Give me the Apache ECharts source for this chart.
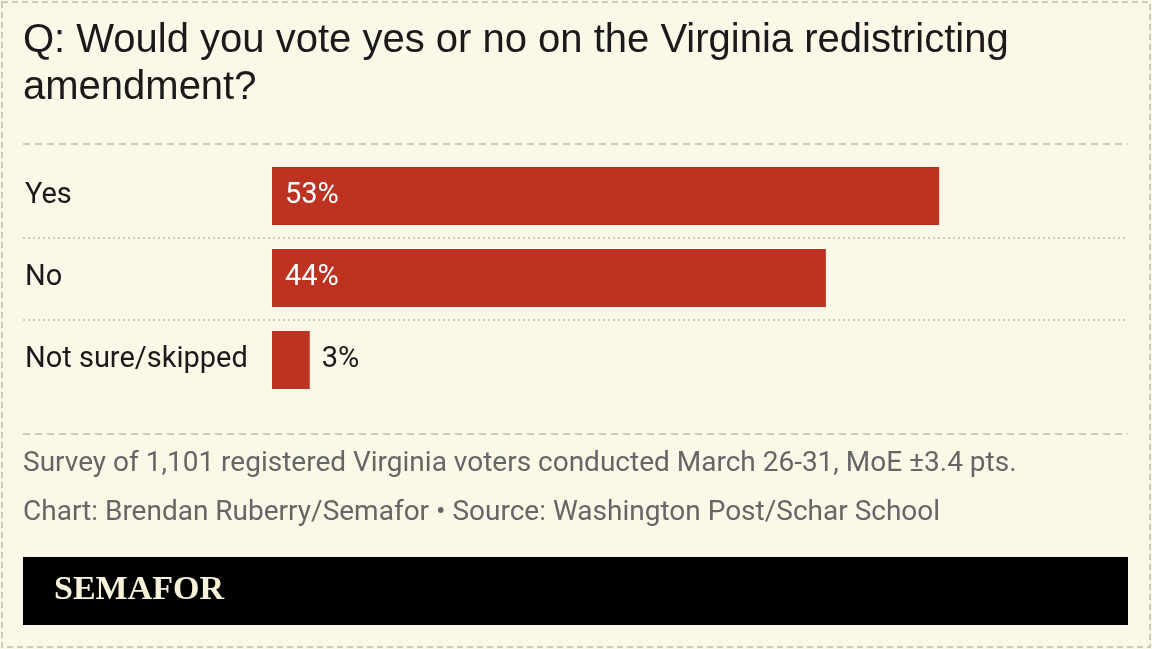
<!DOCTYPE html>
<html>
<head>
<meta charset="utf-8">
<script src="https://cdn.jsdelivr.net/npm/echarts@6/dist/echarts.min.js"></script>
<style>
  html, body { margin: 0; padding: 0; background: #fbf8e8; }
  #main { width: 1152px; height: 649px; }
</style>
</head>
<body>
<div id="main"></div>
<script>
const categories = ['Yes', 'No', 'Not sure/skipped'];
const values = [53, 44, 3];
const titleLines = ['Q: Would you vote yes or no on the Virginia redistricting', 'amendment?'];
const notes = [
  'Survey of 1,101 registered Virginia voters conducted March 26-31, MoE ±3.4 pts.',
  'Chart: Brendan Ruberry/Semafor • Source: Washington Post/Schar School'
];

const chart = echarts.init(document.getElementById('main'));
const font = 'Roboto, "Liberation Sans", sans-serif';

const hline = (y, type) => ({
  type: 'line',
  shape: { x1: 23, y1: y, x2: 1128, y2: y },
  style: { stroke: '#cfcbbb', lineWidth: 2, lineDash: type === 'dotted' ? [2, 3] : [7, 5] }
});

chart.setOption({
  backgroundColor: '#fbf8e8',
  animation: false,
  grid: { left: 272, right: 24, top: 155, bottom: 248 },
  xAxis: { type: 'value', min: 0, max: 68, show: false },
  yAxis: {
    type: 'category',
    data: categories,
    inverse: true,
    axisLine: { show: false },
    axisTick: { show: false },
    axisLabel: { align: 'left', margin: 247, color: '#1a1a1a', fontSize: 29, fontFamily: font }
  },
  series: [{
    type: 'bar',
    data: values.map(v => ({
      value: v,
      label: v < 10
        ? { position: 'right', distance: 12, color: '#1a1a1a' }
        : { position: 'insideLeft', distance: 13, color: '#fff' }
    })),
    barWidth: 58,
    itemStyle: { color: '#be3222' },
    label: { show: true, formatter: '{c}%', fontSize: 29, fontFamily: font }
  }],
  graphic: [
    { type: 'rect', shape: { x: 2, y: 2, width: 1148, height: 645 }, style: { fill: 'none', stroke: '#cfcbbb', lineWidth: 2, lineDash: [6, 4] } },
    { type: 'text', left: 23, top: 17, style: { text: titleLines.join('\n'), fontSize: 40, lineHeight: 47, fill: '#1a1a1a', fontFamily: '"Liberation Sans", Arial, sans-serif' } },
    hline(144, 'dashed'),
    hline(238, 'dotted'),
    hline(320, 'dotted'),
    hline(434, 'dashed'),
    { type: 'text', left: 23, top: 450, style: { text: notes[0], fontSize: 28, fill: '#666', fontFamily: font } },
    { type: 'text', left: 23, top: 499, style: { text: notes[1], fontSize: 28, fill: '#666', fontFamily: font } },
    { type: 'rect', shape: { x: 23, y: 557, width: 1105, height: 68 }, style: { fill: '#000' } },
    { type: 'text', left: 54, top: 573, style: { text: 'SEMAFOR', fontSize: 34, fontWeight: 'bold', fill: '#f6f1d8', fontFamily: '"Liberation Serif", serif' } }
  ]
});
</script>
</body>
</html>
